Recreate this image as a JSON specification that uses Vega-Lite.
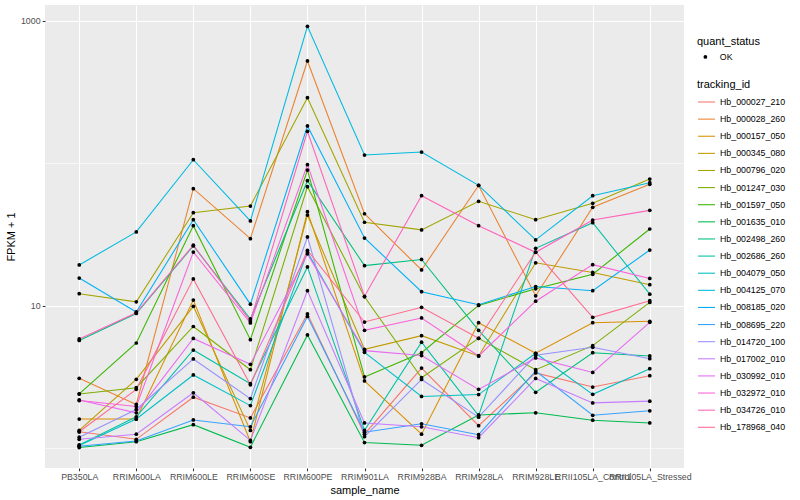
{
  "$schema": "https://vega.github.io/schema/vega-lite/v6.json",
  "width": 639,
  "height": 463,
  "autosize": {"type": "none"},
  "padding": {"left": 45, "top": 5, "right": 116, "bottom": 32},
  "background": "white",
  "config": {
    "font": "Liberation Sans",
    "view": {"fill": "#EBEBEB", "stroke": null},
    "axis": {
      "domain": false,
      "grid": true,
      "gridColor": "white",
      "gridWidth": 1.07,
      "tickColor": "#333333",
      "tickSize": 2.75,
      "tickWidth": 1.07,
      "labelColor": "#4D4D4D",
      "labelFontSize": 8.8,
      "labelPadding": 2.2,
      "titleFontSize": 11,
      "titleFontWeight": "normal",
      "titleColor": "black"
    },
    "legend": {
      "titleFontSize": 11,
      "titleFontWeight": "normal",
      "titleColor": "black",
      "labelFontSize": 8.8,
      "labelColor": "black",
      "padding": 0
    }
  },
  "data": {
    "values": [
      {"sample":"PB350LA","id":"Hb_000027_210","fpkm":1.31,"status":"OK"},
      {"sample":"RRIM600LA","id":"Hb_000027_210","fpkm":1.16,"status":"OK"},
      {"sample":"RRIM600LE","id":"Hb_000027_210","fpkm":2.29,"status":"OK"},
      {"sample":"RRIM600SE","id":"Hb_000027_210","fpkm":1.64,"status":"OK"},
      {"sample":"RRIM600PE","id":"Hb_000027_210","fpkm":8.79,"status":"OK"},
      {"sample":"RRIM901LA","id":"Hb_000027_210","fpkm":1.26,"status":"OK"},
      {"sample":"RRIM928BA","id":"Hb_000027_210","fpkm":3.67,"status":"OK"},
      {"sample":"RRIM928LA","id":"Hb_000027_210","fpkm":1.445,"status":"OK"},
      {"sample":"RRIM928LE","id":"Hb_000027_210","fpkm":3.39,"status":"OK"},
      {"sample":"RRII105LA_Control","id":"Hb_000027_210","fpkm":2.70,"status":"OK"},
      {"sample":"RRII105LA_Stressed","id":"Hb_000027_210","fpkm":3.24,"status":"OK"},

      {"sample":"PB350LA","id":"Hb_000028_260","fpkm":3.11,"status":"OK"},
      {"sample":"RRIM600LA","id":"Hb_000028_260","fpkm":2.04,"status":"OK"},
      {"sample":"RRIM600LE","id":"Hb_000028_260","fpkm":66.6,"status":"OK"},
      {"sample":"RRIM600SE","id":"Hb_000028_260","fpkm":29.7,"status":"OK"},
      {"sample":"RRIM600PE","id":"Hb_000028_260","fpkm":524,"status":"OK"},
      {"sample":"RRIM901LA","id":"Hb_000028_260","fpkm":44.4,"status":"OK"},
      {"sample":"RRIM928BA","id":"Hb_000028_260","fpkm":17.9,"status":"OK"},
      {"sample":"RRIM928LA","id":"Hb_000028_260","fpkm":70.1,"status":"OK"},
      {"sample":"RRIM928LE","id":"Hb_000028_260","fpkm":11.8,"status":"OK"},
      {"sample":"RRII105LA_Control","id":"Hb_000028_260","fpkm":49.3,"status":"OK"},
      {"sample":"RRII105LA_Stressed","id":"Hb_000028_260","fpkm":71.5,"status":"OK"},

      {"sample":"PB350LA","id":"Hb_000157_050","fpkm":1.61,"status":"OK"},
      {"sample":"RRIM600LA","id":"Hb_000157_050","fpkm":1.61,"status":"OK"},
      {"sample":"RRIM600LE","id":"Hb_000157_050","fpkm":11.0,"status":"OK"},
      {"sample":"RRIM600SE","id":"Hb_000157_050","fpkm":1.116,"status":"OK"},
      {"sample":"RRIM600PE","id":"Hb_000157_050","fpkm":45.9,"status":"OK"},
      {"sample":"RRIM901LA","id":"Hb_000157_050","fpkm":2.98,"status":"OK"},
      {"sample":"RRIM928BA","id":"Hb_000157_050","fpkm":1.26,"status":"OK"},
      {"sample":"RRIM928LA","id":"Hb_000157_050","fpkm":7.63,"status":"OK"},
      {"sample":"RRIM928LE","id":"Hb_000157_050","fpkm":4.66,"status":"OK"},
      {"sample":"RRII105LA_Control","id":"Hb_000157_050","fpkm":7.63,"status":"OK"},
      {"sample":"RRII105LA_Stressed","id":"Hb_000157_050","fpkm":7.81,"status":"OK"},

      {"sample":"PB350LA","id":"Hb_000345_080","fpkm":1.34,"status":"OK"},
      {"sample":"RRIM600LA","id":"Hb_000345_080","fpkm":3.06,"status":"OK"},
      {"sample":"RRIM600LE","id":"Hb_000345_080","fpkm":9.95,"status":"OK"},
      {"sample":"RRIM600SE","id":"Hb_000345_080","fpkm":1.34,"status":"OK"},
      {"sample":"RRIM600PE","id":"Hb_000345_080","fpkm":43.5,"status":"OK"},
      {"sample":"RRIM901LA","id":"Hb_000345_080","fpkm":4.97,"status":"OK"},
      {"sample":"RRIM928BA","id":"Hb_000345_080","fpkm":6.19,"status":"OK"},
      {"sample":"RRIM928LA","id":"Hb_000345_080","fpkm":4.46,"status":"OK"},
      {"sample":"RRIM928LE","id":"Hb_000345_080","fpkm":20.1,"status":"OK"},
      {"sample":"RRII105LA_Control","id":"Hb_000345_080","fpkm":17.2,"status":"OK"},
      {"sample":"RRII105LA_Stressed","id":"Hb_000345_080","fpkm":14.1,"status":"OK"},

      {"sample":"PB350LA","id":"Hb_000796_020","fpkm":12.2,"status":"OK"},
      {"sample":"RRIM600LA","id":"Hb_000796_020","fpkm":10.7,"status":"OK"},
      {"sample":"RRIM600LE","id":"Hb_000796_020","fpkm":45.2,"status":"OK"},
      {"sample":"RRIM600SE","id":"Hb_000796_020","fpkm":50.3,"status":"OK"},
      {"sample":"RRIM600PE","id":"Hb_000796_020","fpkm":289.6,"status":"OK"},
      {"sample":"RRIM901LA","id":"Hb_000796_020","fpkm":38.7,"status":"OK"},
      {"sample":"RRIM928BA","id":"Hb_000796_020","fpkm":34.2,"status":"OK"},
      {"sample":"RRIM928LA","id":"Hb_000796_020","fpkm":54.3,"status":"OK"},
      {"sample":"RRIM928LE","id":"Hb_000796_020","fpkm":40.3,"status":"OK"},
      {"sample":"RRII105LA_Control","id":"Hb_000796_020","fpkm":52.6,"status":"OK"},
      {"sample":"RRII105LA_Stressed","id":"Hb_000796_020","fpkm":77.8,"status":"OK"},

      {"sample":"PB350LA","id":"Hb_001247_030","fpkm":2.41,"status":"OK"},
      {"sample":"RRIM600LA","id":"Hb_001247_030","fpkm":2.67,"status":"OK"},
      {"sample":"RRIM600LE","id":"Hb_001247_030","fpkm":7.18,"status":"OK"},
      {"sample":"RRIM600SE","id":"Hb_001247_030","fpkm":3.57,"status":"OK"},
      {"sample":"RRIM600PE","id":"Hb_001247_030","fpkm":68.7,"status":"OK"},
      {"sample":"RRIM901LA","id":"Hb_001247_030","fpkm":11.6,"status":"OK"},
      {"sample":"RRIM928BA","id":"Hb_001247_030","fpkm":3.14,"status":"OK"},
      {"sample":"RRIM928LA","id":"Hb_001247_030","fpkm":5.93,"status":"OK"},
      {"sample":"RRIM928LE","id":"Hb_001247_030","fpkm":3.57,"status":"OK"},
      {"sample":"RRII105LA_Control","id":"Hb_001247_030","fpkm":5.27,"status":"OK"},
      {"sample":"RRII105LA_Stressed","id":"Hb_001247_030","fpkm":10.6,"status":"OK"},

      {"sample":"PB350LA","id":"Hb_001597_050","fpkm":2.42,"status":"OK"},
      {"sample":"RRIM600LA","id":"Hb_001597_050","fpkm":5.50,"status":"OK"},
      {"sample":"RRIM600LE","id":"Hb_001597_050","fpkm":36.6,"status":"OK"},
      {"sample":"RRIM600SE","id":"Hb_001597_050","fpkm":5.80,"status":"OK"},
      {"sample":"RRIM600PE","id":"Hb_001597_050","fpkm":90.0,"status":"OK"},
      {"sample":"RRIM901LA","id":"Hb_001597_050","fpkm":3.18,"status":"OK"},
      {"sample":"RRIM928BA","id":"Hb_001597_050","fpkm":4.70,"status":"OK"},
      {"sample":"RRIM928LA","id":"Hb_001597_050","fpkm":10.1,"status":"OK"},
      {"sample":"RRIM928LE","id":"Hb_001597_050","fpkm":13.2,"status":"OK"},
      {"sample":"RRII105LA_Control","id":"Hb_001597_050","fpkm":16.7,"status":"OK"},
      {"sample":"RRII105LA_Stressed","id":"Hb_001597_050","fpkm":34.7,"status":"OK"},

      {"sample":"PB350LA","id":"Hb_001635_010","fpkm":1.016,"status":"OK"},
      {"sample":"RRIM600LA","id":"Hb_001635_010","fpkm":1.116,"status":"OK"},
      {"sample":"RRIM600LE","id":"Hb_001635_010","fpkm":1.47,"status":"OK"},
      {"sample":"RRIM600SE","id":"Hb_001635_010","fpkm":1.02,"status":"OK"},
      {"sample":"RRIM600PE","id":"Hb_001635_010","fpkm":6.26,"status":"OK"},
      {"sample":"RRIM901LA","id":"Hb_001635_010","fpkm":1.10,"status":"OK"},
      {"sample":"RRIM928BA","id":"Hb_001635_010","fpkm":1.053,"status":"OK"},
      {"sample":"RRIM928LA","id":"Hb_001635_010","fpkm":1.72,"status":"OK"},
      {"sample":"RRIM928LE","id":"Hb_001635_010","fpkm":1.78,"status":"OK"},
      {"sample":"RRII105LA_Control","id":"Hb_001635_010","fpkm":1.58,"status":"OK"},
      {"sample":"RRII105LA_Stressed","id":"Hb_001635_010","fpkm":1.51,"status":"OK"},

      {"sample":"PB350LA","id":"Hb_002498_260","fpkm":5.73,"status":"OK"},
      {"sample":"RRIM600LA","id":"Hb_002498_260","fpkm":8.86,"status":"OK"},
      {"sample":"RRIM600LE","id":"Hb_002498_260","fpkm":26.4,"status":"OK"},
      {"sample":"RRIM600SE","id":"Hb_002498_260","fpkm":8.11,"status":"OK"},
      {"sample":"RRIM600PE","id":"Hb_002498_260","fpkm":75.7,"status":"OK"},
      {"sample":"RRIM901LA","id":"Hb_002498_260","fpkm":19.2,"status":"OK"},
      {"sample":"RRIM928BA","id":"Hb_002498_260","fpkm":21.2,"status":"OK"},
      {"sample":"RRIM928LA","id":"Hb_002498_260","fpkm":6.75,"status":"OK"},
      {"sample":"RRIM928LE","id":"Hb_002498_260","fpkm":2.48,"status":"OK"},
      {"sample":"RRII105LA_Control","id":"Hb_002498_260","fpkm":4.70,"status":"OK"},
      {"sample":"RRII105LA_Stressed","id":"Hb_002498_260","fpkm":4.46,"status":"OK"},

      {"sample":"PB350LA","id":"Hb_002686_260","fpkm":1.06,"status":"OK"},
      {"sample":"RRIM600LA","id":"Hb_002686_260","fpkm":1.67,"status":"OK"},
      {"sample":"RRIM600LE","id":"Hb_002686_260","fpkm":4.91,"status":"OK"},
      {"sample":"RRIM600SE","id":"Hb_002686_260","fpkm":2.85,"status":"OK"},
      {"sample":"RRIM600PE","id":"Hb_002686_260","fpkm":18.8,"status":"OK"},
      {"sample":"RRIM901LA","id":"Hb_002686_260","fpkm":1.34,"status":"OK"},
      {"sample":"RRIM928BA","id":"Hb_002686_260","fpkm":5.57,"status":"OK"},
      {"sample":"RRIM928LA","id":"Hb_002686_260","fpkm":1.70,"status":"OK"},
      {"sample":"RRIM928LE","id":"Hb_002686_260","fpkm":25.4,"status":"OK"},
      {"sample":"RRII105LA_Control","id":"Hb_002686_260","fpkm":38.4,"status":"OK"},
      {"sample":"RRII105LA_Stressed","id":"Hb_002686_260","fpkm":12.1,"status":"OK"},

      {"sample":"PB350LA","id":"Hb_004079_050","fpkm":1.05,"status":"OK"},
      {"sample":"RRIM600LA","id":"Hb_004079_050","fpkm":1.61,"status":"OK"},
      {"sample":"RRIM600LE","id":"Hb_004079_050","fpkm":3.28,"status":"OK"},
      {"sample":"RRIM600SE","id":"Hb_004079_050","fpkm":2.00,"status":"OK"},
      {"sample":"RRIM600PE","id":"Hb_004079_050","fpkm":23.9,"status":"OK"},
      {"sample":"RRIM901LA","id":"Hb_004079_050","fpkm":4.73,"status":"OK"},
      {"sample":"RRIM928BA","id":"Hb_004079_050","fpkm":2.32,"status":"OK"},
      {"sample":"RRIM928LA","id":"Hb_004079_050","fpkm":2.39,"status":"OK"},
      {"sample":"RRIM928LE","id":"Hb_004079_050","fpkm":4.66,"status":"OK"},
      {"sample":"RRII105LA_Control","id":"Hb_004079_050","fpkm":2.40,"status":"OK"},
      {"sample":"RRII105LA_Stressed","id":"Hb_004079_050","fpkm":3.63,"status":"OK"},

      {"sample":"PB350LA","id":"Hb_004125_070","fpkm":19.4,"status":"OK"},
      {"sample":"RRIM600LA","id":"Hb_004125_070","fpkm":33.1,"status":"OK"},
      {"sample":"RRIM600LE","id":"Hb_004125_070","fpkm":106.3,"status":"OK"},
      {"sample":"RRIM600SE","id":"Hb_004125_070","fpkm":39.5,"status":"OK"},
      {"sample":"RRIM600PE","id":"Hb_004125_070","fpkm":918,"status":"OK"},
      {"sample":"RRIM901LA","id":"Hb_004125_070","fpkm":114.7,"status":"OK"},
      {"sample":"RRIM928BA","id":"Hb_004125_070","fpkm":120.4,"status":"OK"},
      {"sample":"RRIM928LA","id":"Hb_004125_070","fpkm":70.3,"status":"OK"},
      {"sample":"RRIM928LE","id":"Hb_004125_070","fpkm":29.1,"status":"OK"},
      {"sample":"RRII105LA_Control","id":"Hb_004125_070","fpkm":59.4,"status":"OK"},
      {"sample":"RRII105LA_Stressed","id":"Hb_004125_070","fpkm":73.3,"status":"OK"},

      {"sample":"PB350LA","id":"Hb_008185_020","fpkm":15.7,"status":"OK"},
      {"sample":"RRIM600LA","id":"Hb_008185_020","fpkm":9.08,"status":"OK"},
      {"sample":"RRIM600LE","id":"Hb_008185_020","fpkm":40.3,"status":"OK"},
      {"sample":"RRIM600SE","id":"Hb_008185_020","fpkm":10.3,"status":"OK"},
      {"sample":"RRIM600PE","id":"Hb_008185_020","fpkm":183.4,"status":"OK"},
      {"sample":"RRIM901LA","id":"Hb_008185_020","fpkm":30.0,"status":"OK"},
      {"sample":"RRIM928BA","id":"Hb_008185_020","fpkm":12.6,"status":"OK"},
      {"sample":"RRIM928LA","id":"Hb_008185_020","fpkm":10.2,"status":"OK"},
      {"sample":"RRIM928LE","id":"Hb_008185_020","fpkm":13.7,"status":"OK"},
      {"sample":"RRII105LA_Control","id":"Hb_008185_020","fpkm":12.8,"status":"OK"},
      {"sample":"RRII105LA_Stressed","id":"Hb_008185_020","fpkm":24.7,"status":"OK"},

      {"sample":"PB350LA","id":"Hb_008695_220","fpkm":1.036,"status":"OK"},
      {"sample":"RRIM600LA","id":"Hb_008695_220","fpkm":1.13,"status":"OK"},
      {"sample":"RRIM600LE","id":"Hb_008695_220","fpkm":1.585,"status":"OK"},
      {"sample":"RRIM600SE","id":"Hb_008695_220","fpkm":1.42,"status":"OK"},
      {"sample":"RRIM600PE","id":"Hb_008695_220","fpkm":8.44,"status":"OK"},
      {"sample":"RRIM901LA","id":"Hb_008695_220","fpkm":1.30,"status":"OK"},
      {"sample":"RRIM928BA","id":"Hb_008695_220","fpkm":1.49,"status":"OK"},
      {"sample":"RRIM928LA","id":"Hb_008695_220","fpkm":1.25,"status":"OK"},
      {"sample":"RRIM928LE","id":"Hb_008695_220","fpkm":3.50,"status":"OK"},
      {"sample":"RRII105LA_Control","id":"Hb_008695_220","fpkm":1.71,"status":"OK"},
      {"sample":"RRII105LA_Stressed","id":"Hb_008695_220","fpkm":1.84,"status":"OK"},

      {"sample":"PB350LA","id":"Hb_014720_100","fpkm":1.20,"status":"OK"},
      {"sample":"RRIM600LA","id":"Hb_014720_100","fpkm":1.88,"status":"OK"},
      {"sample":"RRIM600LE","id":"Hb_014720_100","fpkm":4.25,"status":"OK"},
      {"sample":"RRIM600SE","id":"Hb_014720_100","fpkm":2.24,"status":"OK"},
      {"sample":"RRIM600PE","id":"Hb_014720_100","fpkm":30.5,"status":"OK"},
      {"sample":"RRIM901LA","id":"Hb_014720_100","fpkm":1.21,"status":"OK"},
      {"sample":"RRIM928BA","id":"Hb_014720_100","fpkm":3.05,"status":"OK"},
      {"sample":"RRIM928LA","id":"Hb_014720_100","fpkm":1.66,"status":"OK"},
      {"sample":"RRIM928LE","id":"Hb_014720_100","fpkm":4.51,"status":"OK"},
      {"sample":"RRII105LA_Control","id":"Hb_014720_100","fpkm":5.13,"status":"OK"},
      {"sample":"RRII105LA_Stressed","id":"Hb_014720_100","fpkm":4.27,"status":"OK"},

      {"sample":"PB350LA","id":"Hb_017002_010","fpkm":1.16,"status":"OK"},
      {"sample":"RRIM600LA","id":"Hb_017002_010","fpkm":1.26,"status":"OK"},
      {"sample":"RRIM600LE","id":"Hb_017002_010","fpkm":2.46,"status":"OK"},
      {"sample":"RRIM600SE","id":"Hb_017002_010","fpkm":1.14,"status":"OK"},
      {"sample":"RRIM600PE","id":"Hb_017002_010","fpkm":12.8,"status":"OK"},
      {"sample":"RRIM901LA","id":"Hb_017002_010","fpkm":1.51,"status":"OK"},
      {"sample":"RRIM928BA","id":"Hb_017002_010","fpkm":1.42,"status":"OK"},
      {"sample":"RRIM928LA","id":"Hb_017002_010","fpkm":1.19,"status":"OK"},
      {"sample":"RRIM928LE","id":"Hb_017002_010","fpkm":3.10,"status":"OK"},
      {"sample":"RRII105LA_Control","id":"Hb_017002_010","fpkm":2.09,"status":"OK"},
      {"sample":"RRII105LA_Stressed","id":"Hb_017002_010","fpkm":2.15,"status":"OK"},

      {"sample":"PB350LA","id":"Hb_030992_010","fpkm":2.19,"status":"OK"},
      {"sample":"RRIM600LA","id":"Hb_030992_010","fpkm":1.78,"status":"OK"},
      {"sample":"RRIM600LE","id":"Hb_030992_010","fpkm":5.92,"status":"OK"},
      {"sample":"RRIM600SE","id":"Hb_030992_010","fpkm":3.90,"status":"OK"},
      {"sample":"RRIM600PE","id":"Hb_030992_010","fpkm":23.2,"status":"OK"},
      {"sample":"RRIM901LA","id":"Hb_030992_010","fpkm":4.86,"status":"OK"},
      {"sample":"RRIM928BA","id":"Hb_030992_010","fpkm":4.49,"status":"OK"},
      {"sample":"RRIM928LA","id":"Hb_030992_010","fpkm":2.60,"status":"OK"},
      {"sample":"RRIM928LE","id":"Hb_030992_010","fpkm":4.32,"status":"OK"},
      {"sample":"RRII105LA_Control","id":"Hb_030992_010","fpkm":3.42,"status":"OK"},
      {"sample":"RRII105LA_Stressed","id":"Hb_030992_010","fpkm":7.68,"status":"OK"},

      {"sample":"PB350LA","id":"Hb_032972_010","fpkm":2.17,"status":"OK"},
      {"sample":"RRIM600LA","id":"Hb_032972_010","fpkm":1.97,"status":"OK"},
      {"sample":"RRIM600LE","id":"Hb_032972_010","fpkm":23.9,"status":"OK"},
      {"sample":"RRIM600SE","id":"Hb_032972_010","fpkm":7.60,"status":"OK"},
      {"sample":"RRIM600PE","id":"Hb_032972_010","fpkm":98.1,"status":"OK"},
      {"sample":"RRIM901LA","id":"Hb_032972_010","fpkm":6.75,"status":"OK"},
      {"sample":"RRIM928BA","id":"Hb_032972_010","fpkm":8.24,"status":"OK"},
      {"sample":"RRIM928LA","id":"Hb_032972_010","fpkm":4.46,"status":"OK"},
      {"sample":"RRIM928LE","id":"Hb_032972_010","fpkm":10.8,"status":"OK"},
      {"sample":"RRII105LA_Control","id":"Hb_032972_010","fpkm":19.5,"status":"OK"},
      {"sample":"RRII105LA_Stressed","id":"Hb_032972_010","fpkm":15.6,"status":"OK"},

      {"sample":"PB350LA","id":"Hb_034726_010","fpkm":5.87,"status":"OK"},
      {"sample":"RRIM600LA","id":"Hb_034726_010","fpkm":8.97,"status":"OK"},
      {"sample":"RRIM600LE","id":"Hb_034726_010","fpkm":26.7,"status":"OK"},
      {"sample":"RRIM600SE","id":"Hb_034726_010","fpkm":7.85,"status":"OK"},
      {"sample":"RRIM600PE","id":"Hb_034726_010","fpkm":168.3,"status":"OK"},
      {"sample":"RRIM901LA","id":"Hb_034726_010","fpkm":11.7,"status":"OK"},
      {"sample":"RRIM928BA","id":"Hb_034726_010","fpkm":59.4,"status":"OK"},
      {"sample":"RRIM928LA","id":"Hb_034726_010","fpkm":36.6,"status":"OK"},
      {"sample":"RRIM928LE","id":"Hb_034726_010","fpkm":23.8,"status":"OK"},
      {"sample":"RRII105LA_Control","id":"Hb_034726_010","fpkm":40.1,"status":"OK"},
      {"sample":"RRII105LA_Stressed","id":"Hb_034726_010","fpkm":46.9,"status":"OK"},

      {"sample":"PB350LA","id":"Hb_178968_040","fpkm":1.31,"status":"OK"},
      {"sample":"RRIM600LA","id":"Hb_178968_040","fpkm":2.60,"status":"OK"},
      {"sample":"RRIM600LE","id":"Hb_178968_040","fpkm":15.5,"status":"OK"},
      {"sample":"RRIM600SE","id":"Hb_178968_040","fpkm":2.80,"status":"OK"},
      {"sample":"RRIM600PE","id":"Hb_178968_040","fpkm":24.6,"status":"OK"},
      {"sample":"RRIM901LA","id":"Hb_178968_040","fpkm":7.72,"status":"OK"},
      {"sample":"RRIM928BA","id":"Hb_178968_040","fpkm":9.79,"status":"OK"},
      {"sample":"RRIM928LA","id":"Hb_178968_040","fpkm":5.93,"status":"OK"},
      {"sample":"RRIM928LE","id":"Hb_178968_040","fpkm":23.9,"status":"OK"},
      {"sample":"RRII105LA_Control","id":"Hb_178968_040","fpkm":8.33,"status":"OK"},
      {"sample":"RRII105LA_Stressed","id":"Hb_178968_040","fpkm":10.9,"status":"OK"}
    ]
  },
  "layer": [
    {
      "data": {"values": [{"g": 1}, {"g": 100}]},
      "mark": {"type": "rule", "color": "white", "strokeWidth": 0.55},
      "encoding": {
        "y": {
          "field": "g", "type": "quantitative",
          "scale": {"type": "log", "domain": [0.7297, 1295], "nice": false, "zero": false},
          "axis": {"values": [10, 1000], "format": "d", "title": "FPKM + 1", "titlePadding": 4}
        }
      }
    },
    {
      "mark": {"type": "line", "strokeWidth": 1.07},
      "encoding": {
        "x": {
          "field": "sample", "type": "nominal",
          "scale": {"type": "point", "padding": 0.6,
            "domain": ["PB350LA","RRIM600LA","RRIM600LE","RRIM600SE","RRIM600PE","RRIM901LA","RRIM928BA","RRIM928LA","RRIM928LE","RRII105LA_Control","RRII105LA_Stressed"]},
          "axis": {"title": "sample_name", "labelAngle": 0, "labelOverlap": false, "titlePadding": 3}
        },
        "y": {
          "field": "fpkm", "type": "quantitative",
          "scale": {"type": "log", "domain": [0.7297, 1295], "nice": false, "zero": false},
          "axis": {"values": [10, 1000], "format": "d", "title": "FPKM + 1", "titlePadding": 4}
        },
        "color": {
          "field": "id", "type": "nominal", "title": "tracking_id",
          "scale": {
            "domain": ["Hb_000027_210","Hb_000028_260","Hb_000157_050","Hb_000345_080","Hb_000796_020","Hb_001247_030","Hb_001597_050","Hb_001635_010","Hb_002498_260","Hb_002686_260","Hb_004079_050","Hb_004125_070","Hb_008185_020","Hb_008695_220","Hb_014720_100","Hb_017002_010","Hb_030992_010","Hb_032972_010","Hb_034726_010","Hb_178968_040"],
            "range": ["#F8766D","#EA8331","#D89000","#C09B00","#A3A500","#7CAE00","#39B600","#00BB4E","#00BF7D","#00C1A3","#00BFC4","#00BAE0","#00B0F6","#35A2FF","#9590FF","#C77CFF","#E76BF3","#FA62DB","#FF62BC","#FF6C91"]
          },
          "legend": {
            "orient": "none", "legendX": 652, "legendY": 73.5,
            "symbolType": "stroke", "symbolSize": 289, "symbolStrokeWidth": 1.07,
            "titlePadding": 3, "rowPadding": 2.12, "labelOffset": 4
          }
        },
        "order": {"value": null}
      }
    },
    {
      "mark": {"type": "point", "filled": true, "color": "black", "size": 14, "opacity": 1},
      "encoding": {
        "x": {"field": "sample", "type": "nominal"},
        "y": {"field": "fpkm", "type": "quantitative"},
        "shape": {
          "field": "status", "type": "nominal", "title": "quant_status",
          "scale": {"domain": ["OK"], "range": ["circle"]},
          "legend": {
            "orient": "none", "legendX": 652, "legendY": 30.5,
            "symbolFillColor": "black", "symbolStrokeColor": "black", "symbolSize": 14,
            "titlePadding": 6, "labelOffset": 10, "symbolOffset": 4
          }
        }
      }
    }
  ]
}
